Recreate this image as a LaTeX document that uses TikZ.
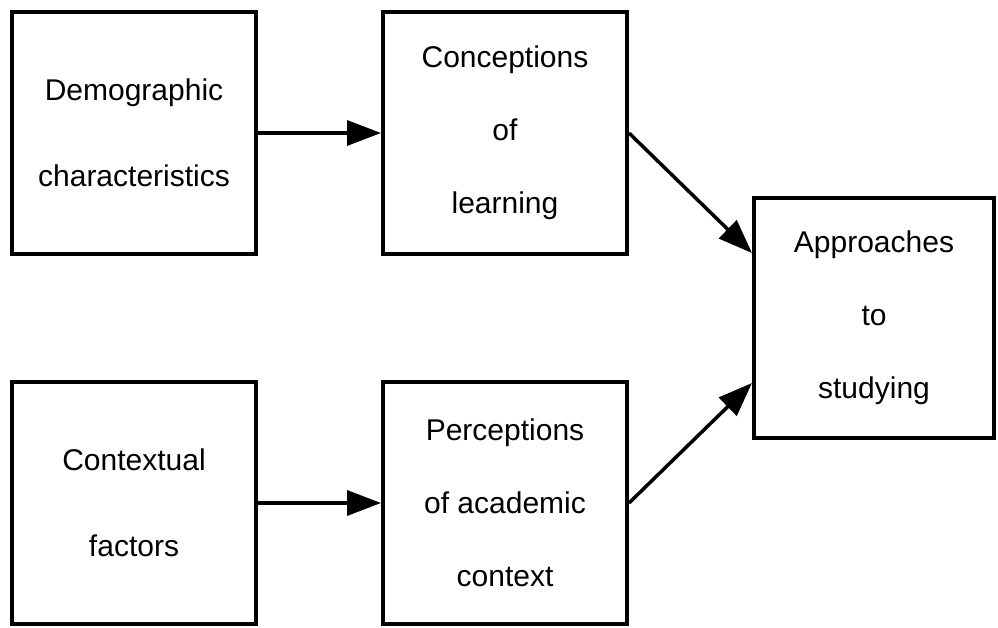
\documentclass[tikz,border=0pt]{standalone}
\usepackage{fontspec}
\setmainfont{Liberation Sans}
\usepackage{tikz}
\usetikzlibrary{arrows.meta, positioning, calc}

\begin{document}
\begin{tikzpicture}[x=1pt, y=-1pt,
  factor/.style={draw, line width=4pt, minimum width=244pt, minimum height=242pt, align=center, inner sep=0pt, font=\fontsize{30}{86}\selectfont},
  factorThree/.style={factor, font=\fontsize{30}{73}\selectfont},
  edge/.style={-{Triangle[length=34pt, width=25pt]}, line width=3.5pt},
]
  \useasboundingbox (0,0) rectangle (998,628);

% Left column
  \node[factor] (demo) at (134,133) {Demographic\\characteristics};
  \node[factor, below=124pt of demo] (cont) {Contextual\\factors};

% Middle column
  \node[factorThree, right=123pt of demo] (conc) {Conceptions\\of\\learning};
  \node[factorThree, right=123pt of cont] (perc) {Perceptions\\of academic\\context};

% Outcome
  \node[factorThree, minimum width=240pt, minimum height=240pt] (appr) at (874,318) {Approaches\\to\\studying};

% edges
  \draw[edge] (demo) -- (conc);
  \draw[edge] (cont) -- (perc);
  \draw[edge] (conc.east) -- ([yshift=65pt]appr.west);
  \draw[edge] (perc.east) -- ([yshift=-65pt]appr.west);
\end{tikzpicture}
\end{document}
